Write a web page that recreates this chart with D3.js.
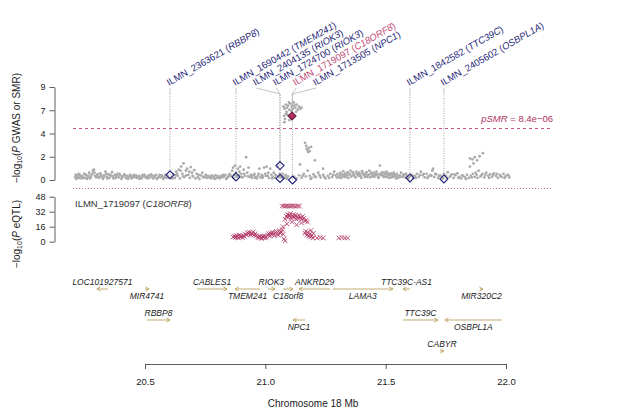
<!DOCTYPE html>
<html>
<head>
<meta charset="utf-8">
<script src="https://cdn.jsdelivr.net/npm/d3@7"></script>
<style>
  body { margin: 0; background: #fff; }
  svg text { font-family: "Liberation Sans", Arial, Helvetica, sans-serif; }
</style>
</head>
<body>
<div id="chart"></div>
<script>
// ---- данные ----
// GWAS SNP: [позиция Mb, -log10 P]
const gwasPoints = [
  [20.21,0.25],[20.215,0.1],[20.22,0.4],[20.226,0.2],[20.23,0.5],[20.236,0.15],[20.24,0.35],[20.247,0.6],[20.25,0.2],[20.256,0.45],
  [20.262,0.3],[20.268,0.7],[20.272,0.15],[20.278,0.5],[20.283,0.9],[20.288,1.0],[20.292,0.4],[20.297,0.25],[20.303,0.55],[20.308,0.2],
  [20.314,0.65],[20.319,0.35],[20.325,0.1],[20.33,0.45],[20.336,0.8],[20.341,0.3],[20.347,0.55],[20.352,0.2],[20.358,0.4],[20.363,0.75],
  [20.369,0.15],[20.374,0.5],[20.38,0.3],[20.386,0.6],[20.391,0.25],[20.397,0.45],[20.402,0.1],[20.408,0.35],[20.414,0.55],[20.42,0.2],
  [20.426,0.4],[20.432,0.3],[20.438,0.5],[20.444,0.15],[20.45,0.35],[20.456,0.25],[20.462,0.45],[20.468,0.2],[20.474,0.4],[20.48,0.3],
  [20.486,0.15],[20.492,0.35],[20.498,0.5],[20.504,0.2],[20.51,0.3],[20.516,0.45],[20.522,0.25],[20.528,0.4],[20.534,0.15],[20.54,0.3],
  [20.546,0.5],[20.552,0.2],[20.558,0.35],[20.564,0.25],[20.57,0.45],[20.576,0.1],[20.582,0.3],[20.588,0.2],[20.594,0.4],
  [20.61,0.3],[20.618,0.55],[20.624,0.2],[20.63,0.8],[20.636,0.4],[20.64,1.0],[20.645,0.15],[20.65,1.3],[20.655,0.6],[20.66,1.6],
  [20.664,0.3],[20.67,0.9],[20.675,1.1],[20.68,0.5],[20.686,0.2],[20.69,1.25],[20.695,0.7],[20.7,0.35],[20.705,0.95],[20.71,0.15],
  [20.715,0.6],[20.72,0.3],[20.726,0.1],[20.732,0.45],[20.738,0.7],[20.744,0.25],[20.75,0.35],[20.756,0.2],[20.762,0.4],[20.768,0.3],
  [20.774,0.15],[20.78,0.35],[20.786,0.25],[20.792,0.45],[20.798,0.2],[20.804,0.3],[20.81,0.15],[20.816,0.4],[20.822,0.25],[20.828,0.35],
  [20.834,0.5],[20.84,0.2],[20.846,0.3],[20.852,0.6],[20.858,0.4],[20.862,0.9],[20.866,1.2],[20.87,0.5],[20.874,1.4],[20.878,0.7],
  [20.882,0.3],[20.886,1.1],[20.89,0.45],[20.895,1.3],[20.9,0.6],[20.905,0.25],[20.91,1.0],[20.915,0.4],[20.92,2.2],[20.925,0.7],
  [20.93,1.2],[20.935,0.3],[20.94,0.5],[20.945,0.2],[20.95,0.45],[20.955,0.6],[20.96,0.3],[20.965,0.15],[20.97,0.4],[20.975,1.1],
  [20.98,0.25],[20.985,0.5],[20.99,0.35],[20.995,1.2],[21.0,0.6],[21.005,1.3],[21.01,0.4],[21.015,0.2],[21.02,1.1],[21.025,0.5],
  [21.03,0.3],[21.035,0.7],[21.04,0.2],[21.045,0.45],[21.05,1.3],[21.055,0.35],[21.06,0.6],[21.065,0.25],[21.07,0.4],[21.075,0.15],
  [21.08,0.3],[21.085,0.5],[21.09,0.2],[21.095,0.35],
  [20.212,0.5],[20.218,0.3],[20.224,0.6],[20.233,0.35],[20.244,0.2],[20.253,0.55],[20.259,0.1],[20.265,0.4],[20.275,0.3],[20.281,0.6],
  [20.29,0.7],[20.3,0.4],[20.311,0.3],[20.317,0.5],[20.328,0.25],[20.339,0.6],[20.344,0.15],[20.355,0.5],[20.366,0.35],[20.377,0.2],
  [20.383,0.45],[20.394,0.6],[20.405,0.3],[20.417,0.45],[20.429,0.1],[20.441,0.35],[20.453,0.5],[20.465,0.3],[20.477,0.1],[20.489,0.5],
  [20.501,0.35],[20.513,0.15],[20.525,0.55],[20.537,0.4],[20.549,0.1],[20.561,0.5],[20.573,0.3],[20.585,0.5],[20.598,0.2],
  [20.614,0.15],[20.627,0.45],[20.633,0.6],[20.648,0.9],[20.658,0.35],[20.672,0.45],[20.684,0.8],[20.698,0.4],[20.723,0.5],[20.741,0.3],
  [20.753,0.5],[20.765,0.25],[20.777,0.45],[20.789,0.1],[20.801,0.4],[20.813,0.3],[20.825,0.5],[20.837,0.1],[20.849,0.45],[20.868,0.2],
  [20.88,0.4],[20.892,0.8],[20.902,0.3],[20.912,0.6],[20.928,0.35],[20.942,0.4],[20.958,0.2],[20.972,0.6],[20.988,0.2],[21.002,0.4],
  [21.012,0.7],[21.028,0.15],[21.042,0.5],[21.058,0.3],[21.072,0.6],[21.088,0.1],
  // пик
  [21.075,7.1],[21.08,6.9],[21.085,7.3],[21.09,7.0],[21.095,7.2],[21.1,6.8],[21.105,7.4],[21.11,7.1],[21.115,6.9],[21.12,7.2],
  [21.125,7.0],[21.13,7.3],[21.135,6.8],[21.14,7.1],[21.145,6.9],[21.15,7.0],[21.088,6.6],[21.098,7.5],[21.118,7.5],[21.128,6.6],
  [21.108,6.7],[21.078,6.2],[21.082,5.9],[21.086,6.4],[21.079,5.6],[21.092,6.3],[21.1,5.8],
  [21.165,3.6],[21.17,3.3],[21.175,2.9],[21.18,3.1],[21.185,2.8],[21.172,3.0],[21.19,3.2],[21.178,2.7],[21.144,1.5],[21.206,1.9],[21.24,1.1],
  // справа
  [21.12,0.3],[21.13,0.15],[21.14,0.45],[21.15,0.2],[21.16,0.6],[21.168,0.35],[21.176,0.9],[21.184,0.4],[21.192,0.2],[21.2,0.55],
  [21.21,0.3],[21.22,0.7],[21.23,0.25],[21.24,0.5],[21.25,0.15],[21.26,0.4],[21.27,0.6],[21.278,0.3],[21.286,0.8],[21.293,0.45],
  [21.3,0.6],[21.306,0.25],[21.312,0.7],[21.318,0.4],[21.324,0.85],[21.33,0.5],[21.336,0.3],[21.342,0.75],[21.348,0.55],[21.354,0.9],
  [21.36,0.4],[21.366,0.65],[21.372,0.3],[21.378,0.8],[21.384,0.5],[21.39,0.7],[21.396,0.35],[21.402,0.85],[21.408,0.55],[21.414,0.3],
  [21.42,0.75],[21.426,0.45],[21.432,0.9],[21.438,0.6],[21.444,0.35],[21.45,0.7],[21.456,0.5],[21.462,0.8],[21.468,0.3],[21.474,0.6],
  [21.476,1.4],[21.48,0.45],[21.486,0.75],[21.492,0.3],[21.498,0.55],[21.504,0.8],[21.51,0.4],[21.516,0.65],[21.522,0.25],[21.528,0.5],
  [21.534,0.7],[21.54,0.35],[21.546,0.6],[21.552,0.2],[21.558,0.45],[21.564,0.7],[21.57,0.3],[21.576,0.55],[21.582,0.25],[21.588,0.4],
  [21.594,0.15],[21.6,0.35],[21.608,0.5],[21.615,0.2],[21.622,0.4],[21.63,0.6],[21.638,0.3],[21.646,0.8],[21.654,0.45],[21.662,0.25],
  [21.67,0.6],[21.678,0.35],[21.686,0.5],[21.694,0.9],[21.697,1.1],[21.702,0.3],[21.71,0.55],[21.718,0.2],[21.726,0.45],[21.734,0.3],
  [21.742,0.6],[21.75,0.4],[21.758,0.75],[21.766,0.3],[21.774,0.55],[21.782,0.2],[21.79,0.45],[21.798,0.65],[21.806,0.3],[21.814,0.15],
  [21.822,0.4],[21.83,0.25],[21.838,0.5],[21.846,0.2],[21.85,1.3],[21.854,0.4],[21.862,0.6],[21.87,0.3],[21.878,0.5],[21.886,0.9],
  [21.894,0.35],[21.902,0.6],[21.91,0.25],[21.918,0.7],[21.926,0.4],[21.934,0.55],[21.942,0.3],[21.95,0.65],[21.958,0.4],[21.966,0.2],
  [21.974,0.5],[21.982,0.3],[21.99,0.6],[21.998,0.35],[22.006,0.5],[22.014,0.25],
  [21.155,0.4],[21.188,0.1],[21.205,0.35],[21.225,0.45],[21.245,0.3],[21.265,0.2],[21.282,0.5],[21.297,0.25],[21.309,0.45],[21.315,0.2],
  [21.321,0.55],[21.327,0.3],[21.333,0.65],[21.339,0.45],[21.345,0.2],[21.351,0.6],[21.357,0.35],[21.363,0.75],[21.369,0.5],[21.375,0.25],
  [21.381,0.6],[21.387,0.4],[21.393,0.55],[21.399,0.2],[21.405,0.65],[21.411,0.45],[21.417,0.6],[21.423,0.3],[21.429,0.5],[21.435,0.25],
  [21.441,0.7],[21.447,0.45],[21.453,0.3],[21.459,0.6],[21.465,0.5],[21.471,0.2],[21.483,0.6],[21.489,0.45],[21.495,0.7],[21.501,0.3],
  [21.507,0.55],[21.513,0.2],[21.519,0.5],[21.525,0.65],[21.531,0.3],[21.537,0.5],[21.543,0.15],[21.549,0.4],[21.561,0.3],[21.573,0.45],
  [21.585,0.6],[21.597,0.3],[21.612,0.4],[21.626,0.2],[21.642,0.5],[21.658,0.6],[21.674,0.2],[21.69,0.4],[21.706,0.6],[21.722,0.4],
  [21.738,0.15],[21.754,0.2],[21.77,0.4],[21.786,0.55],[21.802,0.2],[21.818,0.45],[21.834,0.1],[21.858,0.25],[21.874,0.7],[21.882,0.2],
  [21.898,0.45],[21.914,0.5],[21.93,0.2],[21.946,0.5],[21.962,0.6],[21.978,0.35],[21.994,0.2],[22.01,0.45],
  [21.85,2.1],[21.86,2.0],[21.87,2.2],[21.88,1.9],[21.904,2.6],[21.865,1.6],[21.89,2.3]
];

// eQTL для ILMN_1719097: [позиция Mb, -log10 P]
const eqtlPoints = [
  [20.866,5],[20.872,6],[20.876,4.5],[20.88,6.5],[20.884,5.5],[20.888,4],[20.892,7],[20.896,5],[20.9,6],[20.904,4.5],[20.908,6.5],[20.912,5.5],
  [20.918,8],[20.922,7],[20.926,9.5],[20.93,8.5],[20.934,10],[20.938,7.5],[20.942,9],[20.946,8],[20.95,10.5],[20.954,7],[20.958,8.5],[20.962,6.5],
  [20.968,5],[20.972,4],[20.976,6],[20.98,5],[20.984,3.5],[20.988,5.5],[20.992,4.5],[20.996,6],[21.0,4],[21.004,5],
  [21.01,7],[21.014,8.5],[21.018,6],[21.022,9],[21.026,7.5],[21.03,10],[21.034,8],[21.038,6.5],[21.042,9.5],[21.046,11],
  [21.05,8],[21.054,7],[21.058,12],[21.062,9],[21.066,10.5],[21.07,13],[21.074,8],[21.073,16],[21.078,3],[21.082,1],
  [21.07,38.2],[21.078,37.8],[21.086,38.1],[21.094,38.3],[21.102,37.9],[21.11,38.0],[21.118,38.2],[21.126,37.8],[21.134,38.1],[21.142,38.0],
  [21.082,24],[21.088,27],[21.092,29],[21.096,26],[21.1,28],[21.104,30],[21.108,25],[21.112,27],[21.116,29],[21.12,26],
  [21.124,28],[21.128,24],[21.132,27],[21.136,25],[21.14,28],[21.145,26],[21.15,24],[21.155,27],[21.16,25],[21.165,22],
  [21.17,23],[21.09,19],[21.11,21],[21.13,18],[21.15,20],[21.175,21],
  [21.165,9],[21.168,11],[21.172,7],[21.176,10],[21.18,6],[21.184,8],[21.188,5],[21.19,12],[21.194,7],[21.198,4],[21.2,9],
  [21.215,4],[21.228,4.5],[21.24,4],[21.305,4],[21.318,4.5],[21.33,4],[21.342,4]
];

// пробы SMR
const probeIds   = ["ILMN_2363621","ILMN_1690442","ILMN_2404135","ILMN_1724700","ILMN_1719097","ILMN_1713505","ILMN_1842582","ILMN_2405602"];
const probeGenes = ["RBBP8","TMEM241","RIOK3","RIOK3","C18ORF8","NPC1","TTC39C","OSBPL1A"];
const probePos   = [20.604, 20.878, 21.061, 21.061, 21.111, 21.113, 21.601, 21.742];
const probeSmr   = [0.5, 0.3, 1.4, 0.15, 6.2, 0.0, 0.2, 0.1];
const targetProbe = "ILMN_1719097";
const pSmrThreshold = 8.4e-6;

// гены: имя, начало, конец, цепь, ряд, подпись (сверху/снизу)
const geneNames  = ["LOC101927571","MIR4741","CABLES1","TMEM241","RIOK3","C18orf8","ANKRD29","LAMA3","TTC39C-AS1","MIR320C2","RBBP8","NPC1","TTC39C","OSBPL1A","CABYR"];
const geneStart  = [20.30, 20.500, 20.716, 20.874, 21.01, 21.075, 21.14, 21.28, 21.572, 21.892, 20.508, 21.115, 21.572, 21.746, 21.726];
const geneEnd    = [20.346, 20.517, 20.841, 20.978, 21.04, 21.115, 21.27, 21.53, 21.601, 21.904, 20.604, 21.165, 21.717, 21.983, 21.742];
const geneStrand = ["-","+","+","-","+","+","-","+","-","+","+","-","+","-","+"];
const geneRow    = [0,0,0,0,0,0,0,0,0,0,1,1,1,1,2];
const geneLabel  = ["up","down","up","down","up","down","up","down","up","down","up","down","up","down","up"];

// оси
const xTicks = [20.5, 21.0, 21.5, 22.0];
const gwasTicks = [0, 2.25, 4.5, 6.75, 9];
const gwasTickLabels = ["0","2","4","7","9"];
const eqtlTicks = [0, 16, 32, 48];

// ---- рисуем ----
const width = 620, height = 418;
const plotLeft = 73, plotRight = 553;
const navy = "#1f1f78", maroon = "#b03060", grey = "#ababab", geneCol = "#bba25f";

const svg = d3.select("#chart").append("svg")
  .attr("width", width).attr("height", height);

const xScale = d3.scaleLinear().domain([20.5, 22.0]).range([145, 506]);
const yTop = d3.scaleLinear().domain([0, 9]).range([180, 87]);
const yEq = d3.scaleLinear().domain([0, 48]).range([241.7, 196.7]);
const rowY = d3.scaleLinear().domain([0, 2]).range([289, 351]);

function styleAxis(g) {
  g.selectAll("path, line").attr("stroke", "#333").attr("stroke-width", 0.8);
  g.selectAll("text").attr("fill", "#222").style("font-size", "9px")
   .style("font-family", "'Liberation Sans', Arial, sans-serif");
}

// Y ось GWAS
svg.append("g").attr("transform", "translate(54.5,0)")
  .call(d3.axisLeft(yTop).tickValues(gwasTicks)
    .tickFormat((d, i) => gwasTickLabels[i]).tickSize(5).tickSizeOuter(0).tickPadding(4))
  .call(styleAxis);

// Y ось eQTL
svg.append("g").attr("transform", "translate(54.5,0)")
  .call(d3.axisLeft(yEq).tickValues(eqtlTicks).tickSize(5).tickSizeOuter(0).tickPadding(4))
  .call(styleAxis);

// X ось
svg.append("g").attr("transform", "translate(0,364)")
  .call(d3.axisBottom(xScale).tickValues(xTicks).tickFormat(d3.format(".1f"))
    .tickSize(5).tickSizeOuter(0).tickPadding(9.5))
  .call(styleAxis)
  .selectAll("text").style("font-size", "9.5px");

svg.append("text").attr("x", (plotLeft + plotRight) / 2).attr("y", 407)
  .attr("text-anchor", "middle").style("font-size", "10px").attr("fill", "#222")
  .text("Chromosome 18 Mb");

// подписи осей Y
function yTitle(cx, cy, parts) {
  const t = svg.append("text").attr("transform", `translate(${cx},${cy}) rotate(-90)`)
    .attr("text-anchor", "middle").style("font-size", "10px").attr("fill", "#222");
  t.append("tspan").text("\u2212log");
  t.append("tspan").text("10").style("font-size", "7px").attr("dy", 2);
  t.append("tspan").text("(").attr("dy", -2);
  t.append("tspan").text("P").style("font-style", "italic");
  t.append("tspan").text(parts);
}
yTitle(20, 128, " GWAS or SMR)");
yTitle(20, 234, " eQTL)");

// пунктирные линии
const thrY = Math.round(yTop(-Math.log10(pSmrThreshold))) + 0.5;
svg.append("line").attr("x1", plotLeft).attr("x2", plotRight).attr("y1", thrY).attr("y2", thrY)
  .attr("stroke", "#c0548c").attr("stroke-width", 1).attr("stroke-dasharray", "3,3");
svg.append("line").attr("x1", plotLeft).attr("x2", plotRight).attr("y1", 188.5).attr("y2", 188.5)
  .attr("stroke", "#c8679c").attr("stroke-width", 1).attr("stroke-dasharray", "1,2");

const thr = svg.append("text").attr("x", plotRight).attr("y", thrY - 7)
  .attr("text-anchor", "end").style("font-size", "9.5px").attr("fill", maroon);
thr.append("tspan").text("pSMR").style("font-style", "italic");
thr.append("tspan").text(" = 8.4e\u221206");

// пробы: раскладка подписей
const probes = probeIds.map((id, i) => ({
  id, gene: probeGenes[i], pos: probePos[i], smr: probeSmr[i], px: xScale(probePos[i])
}));
const spacing = 20;
let groups = probes.map(p => ({ items: [p] }));
function placeGroup(g) {
  const m = d3.mean(g.items, d => d.px);
  g.items.forEach((d, k) => d.lx = m + (k - (g.items.length - 1) / 2) * spacing);
}
groups.forEach(placeGroup);
let merged = true;
while (merged) {
  merged = false;
  for (let k = 0; k < groups.length - 1; k++) {
    const a = groups[k], b = groups[k + 1];
    if (b.items[0].lx - a.items[a.items.length - 1].lx < spacing - 0.5) {
      a.items = a.items.concat(b.items);
      groups.splice(k + 1, 1);
      placeGroup(a);
      merged = true;
      break;
    }
  }
}

const yLeadBottom = 94, yLeadTop = 88;
// вертикальные пунктирные линии
svg.selectAll(".vline").data(probes).enter().append("line")
  .attr("x1", d => d.px).attr("x2", d => d.px)
  .attr("y1", d => yTop(d.smr)).attr("y2", yLeadBottom)
  .attr("stroke", "#8a8a8a").attr("stroke-width", 0.8).attr("stroke-dasharray", "1,1.5");
svg.selectAll(".lead").data(probes).enter().append("line")
  .attr("x1", d => d.px).attr("x2", d => d.lx)
  .attr("y1", yLeadBottom).attr("y2", yLeadTop)
  .attr("stroke", "#999").attr("stroke-width", 0.6);

// подписи проб
probes.forEach(p => {
  const col = p.id === targetProbe ? "#c04a74" : navy;
  const t = svg.append("text")
    .attr("transform", `translate(${p.lx - 1},${yLeadTop - 2}) rotate(-30)`)
    .style("font-size", "9.5px").attr("fill", col);
  t.append("tspan").text(p.id + " (");
  t.append("tspan").text(p.gene).style("font-style", "italic");
  t.append("tspan").text(")");
});

// GWAS точки
svg.selectAll(".gwas").data(gwasPoints).enter().append("circle")
  .attr("cx", d => xScale(d[0])).attr("cy", d => yTop(d[1])).attr("r", 1.4)
  .attr("fill", grey);

// ромбы SMR
const diamond = "M0,-4L4,0L0,4L-4,0Z";
svg.selectAll(".dia").data(probes).enter().append("path")
  .attr("d", diamond)
  .attr("transform", d => `translate(${d.px},${yTop(d.smr)})`)
  .attr("fill", d => d.id === targetProbe ? maroon : "none")
  .attr("stroke", d => d.id === targetProbe ? "#6a1a40" : navy)
  .attr("stroke-width", 1.1);

// eQTL
svg.append("text").attr("x", 75).attr("y", 207).style("font-size", "9.5px").attr("fill", "#333")
  .call(t => {
    t.append("tspan").text("ILMN_1719097 (");
    t.append("tspan").text("C18ORF8").style("font-style", "italic");
    t.append("tspan").text(")");
  });
svg.selectAll(".eq").data(eqtlPoints).enter().append("path")
  .attr("d", "M-2.3,-2.3L2.3,2.3M-2.3,2.3L2.3,-2.3")
  .attr("transform", d => `translate(${xScale(d[0])},${yEq(d[1])})`)
  .attr("stroke", maroon).attr("stroke-width", 0.8).attr("fill", "none");

// гены
const genes = geneNames.map((n, i) => ({
  name: n, start: geneStart[i], end: geneEnd[i], strand: geneStrand[i], row: geneRow[i], label: geneLabel[i]
}));
function genePath(d) {
  const x0 = xScale(d.start), x1 = xScale(d.end), y = rowY(d.row);
  const tip = d.strand === "+" ? x1 : x0;
  const dir = d.strand === "+" ? -1 : 1;
  const hx = 3.6 * dir, hy = 2;
  return `M${x0},${y}L${x1},${y}M${tip + hx},${y - hy}L${tip},${y}L${tip + hx},${y + hy}`;
}
svg.selectAll(".gene").data(genes).enter().append("path")
  .attr("d", genePath).attr("stroke", geneCol).attr("stroke-width", 0.9).attr("fill", "none");
svg.selectAll(".glab").data(genes).enter().append("text")
  .attr("x", d => xScale((d.start + d.end) / 2))
  .attr("y", d => d.label === "up" ? rowY(d.row) - 4 : rowY(d.row) + 10)
  .attr("text-anchor", "middle").style("font-size", "8.5px").style("font-style", "italic")
  .attr("fill", "#222").text(d => d.name);
</script>
</body>
</html>
